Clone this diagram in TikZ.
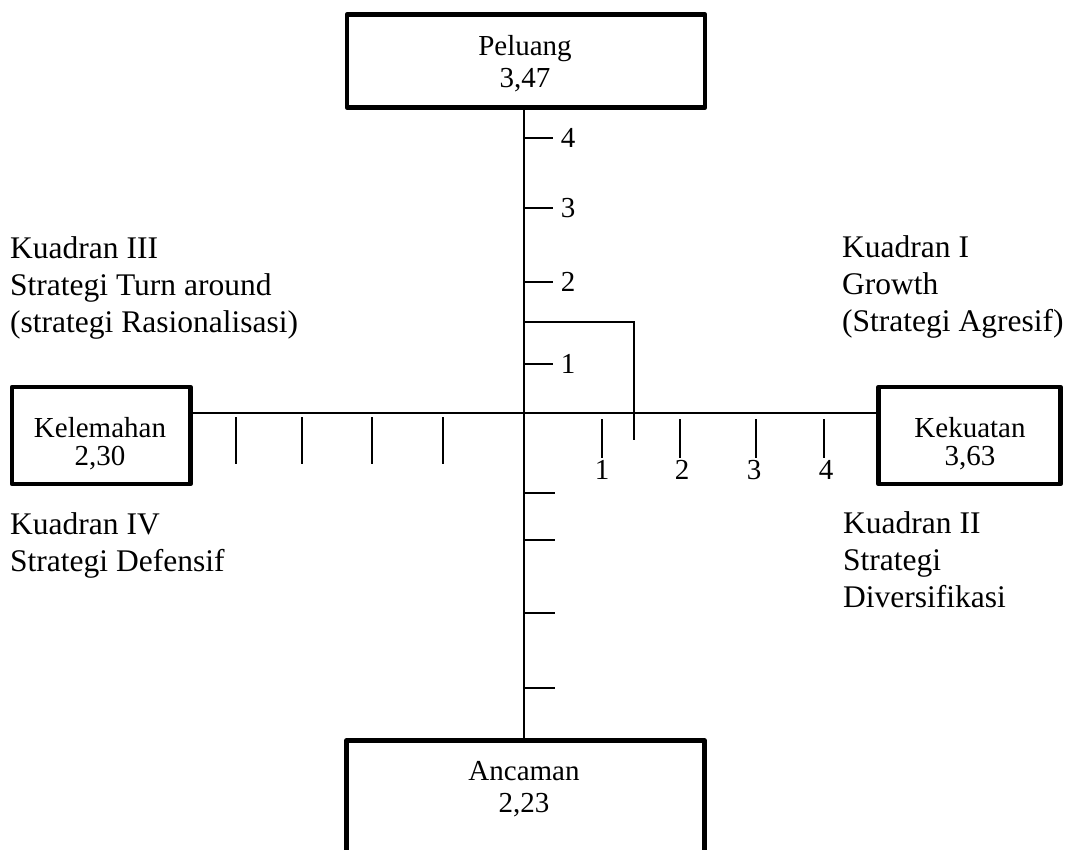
\documentclass[tikz,border=0pt]{standalone}
\usepackage{fontspec}
\setmainfont{Liberation Serif}
\begin{document}
\begin{tikzpicture}[x=1pt,y=-1pt,
  box/.style={draw, line width=4.6pt, line join=round, rectangle, inner sep=0pt},
  txt/.style={font=\fontsize{29}{33}\selectfont, inner sep=0pt},
  quad/.style={font=\fontsize{31.5}{37}\selectfont, inner sep=0pt, align=left, anchor=base west},
  axisline/.style={line width=1.7pt},
  tickline/.style={line width=1.7pt},
  markline/.style={line width=1.5pt}]
\useasboundingbox (0,0) rectangle (1070,849);
\clip (0,0) rectangle (1070,849);
\fill[white] (0,0) rectangle (1070,849);

% boxes
\node[box, minimum width=358pt, minimum height=93pt] (peluang) at (526,61) {};
\node[box, minimum width=178.5pt, minimum height=97pt] (kelemahan) at (101.25,435.5) {};
\node[box, minimum width=182pt, minimum height=97pt] (kekuatan) at (969.5,435.5) {};
\node[box, minimum width=358pt, minimum height=130pt] (ancaman) at (525.5,805.5) {};

% box texts
\node[txt, anchor=base] (peluangA) at (525,55) {Peluang};
\node[txt, anchor=base] (peluangB) at (525,87) {3,47};
\node[txt, anchor=base] (kelemahanA) at (100,437) {Kelemahan};
\node[txt, anchor=base] (kelemahanB) at (100,465) {2,30};
\node[txt, anchor=base] (kekuatanA) at (970,437) {Kekuatan};
\node[txt, anchor=base] (kekuatanB) at (970,465) {3,63};
\node[txt, anchor=base] (ancamanA) at (524,780) {Ancaman};
\node[txt, anchor=base] (ancamanB) at (524,812) {2,23};

% axes
\coordinate (O) at (524,413);
\draw[axisline] (O |- peluang.south) -- (O |- ancaman.north);
\draw[axisline] (kelemahan.east |- O) -- (kekuatan.west |- O);

% upper ticks with labels
\foreach \yy/\ll in {138/4,208/3,282/2,364/1}{
  \draw[tickline] (524,\yy) -- (553,\yy) node[txt, anchor=west, xshift=7pt] {\ll};
}
% lower ticks
\foreach \yy in {493,540,613,688}{
  \draw[tickline] (524,\yy) -- (555,\yy);
}
% right ticks
\foreach \xx in {602,680,756,824}{
  \draw[tickline] (\xx,419) -- (\xx,458);
}
\node[txt, anchor=base] (r1) at (602,479) {1};
\node[txt, anchor=base] (r2) at (682,479) {2};
\node[txt, anchor=base] (r3) at (754,479) {3};
\node[txt, anchor=base] (r4) at (826,479) {4};
% left ticks
\foreach \xx in {236,302,372,443}{
  \draw[tickline] (\xx,417) -- (\xx,464);
}

% position marker
\coordinate (mA) at (524,322);
\coordinate (mB) at (634,322);
\coordinate (mC) at (634,440);
\draw[markline] (mA) -- (mB) -- (mC);

% quadrant labels (base anchor = last line's baseline)
\node[quad] (q3) at (10,332) {Kuadran III\\Strategi Turn around\\(strategi Rasionalisasi)};
\node[quad] (q1) at (842,331) {Kuadran I\\Growth\\(Strategi Agresif)};
\node[quad] (q4) at (10,571) {Kuadran IV\\Strategi Defensif};
\node[quad] (q2) at (843,607) {Kuadran II\\Strategi\\Diversifikasi};
\end{tikzpicture}
\end{document}
